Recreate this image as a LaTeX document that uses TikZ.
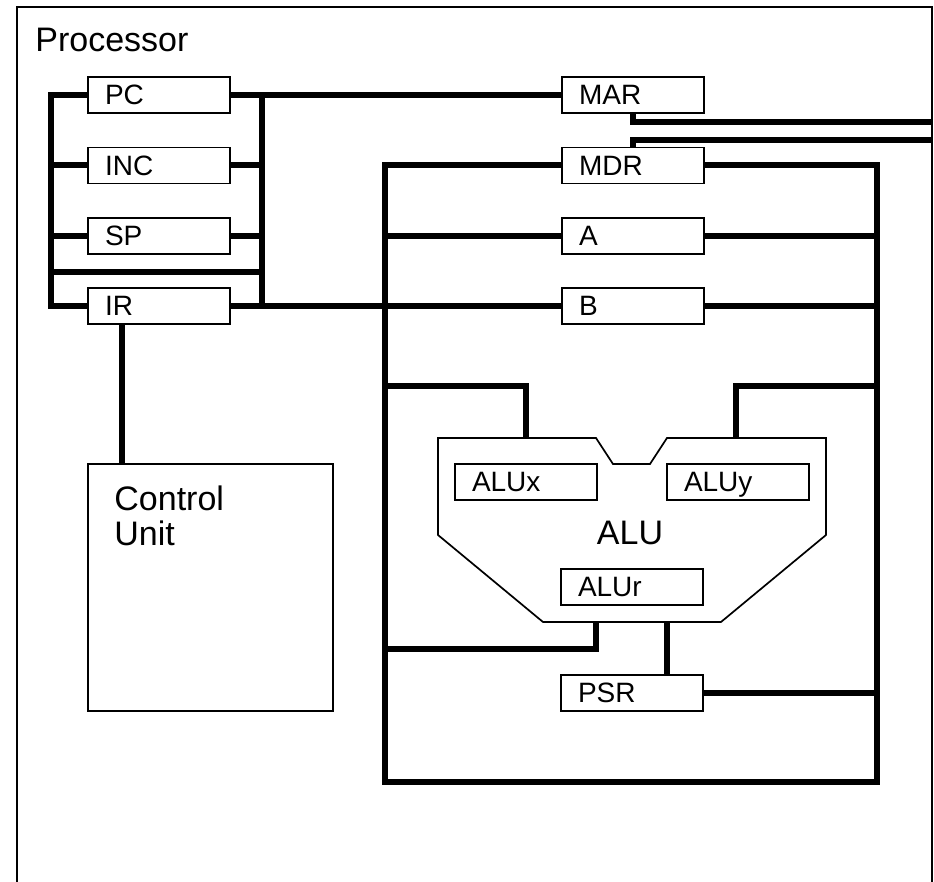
\documentclass[tikz,border=0pt]{standalone}
\usepackage{fontspec}
\setmainfont{Liberation Sans}

\begin{document}
\begin{tikzpicture}[x=0.5pt,y=-0.5pt,
  reg/.style={draw,line width=0.85pt,minimum width=71pt,minimum height=18pt,
    text width=54pt,inner xsep=8.5pt,align=left,text height=10pt,text depth=0pt,
    font=\fontsize{14}{16}\selectfont},
  bus/.style={line width=3pt},
  big/.style={font=\fontsize{17}{17.5}\selectfont}]
\useasboundingbox (0,0) rectangle (934,882);
% frame
\draw[line width=0.75pt] (17,900) -- (17,7) -- (932,7) -- (932,900);
\node[big,anchor=base west,inner sep=0pt] (title) at (35,52) {Processor};

% registers
\node[reg] (pc) at (159,95) {PC};
\node[reg] (inc) at (159,165.5) {INC};
\node[reg] (sp) at (159,236) {SP};
\node[reg] (ir) at (159,306) {IR};
\node[reg] (mar) at (633,95) {MAR};
\node[reg] (mdr) at (633,165.5) {MDR};
\node[reg] (a) at (633,236) {A};
\node[reg] (b) at (633,306) {B};

% control unit
\node[draw,line width=0.85pt,minimum width=122.5pt,minimum height=123.5pt] (cu) at (210.5,587.5) {};
\node[big,anchor=north west,inner sep=0pt,align=left] (cutext) at (114,485) {Control\\Unit};

% ALU
\draw[line width=0.85pt] (438,438) -- (596,438) -- (613,464) -- (650,464) -- (667,438)
  -- (826,438) -- (826,535) -- (721,622) -- (543,622) -- (438,535) -- cycle;
\node[big,anchor=base,inner sep=0pt] (alulabel) at (630,545) {ALU};
\node[reg] (alux) at (526,482) {ALUx};
\node[reg] (aluy) at (738,482) {ALUy};
\node[reg] (alur) at (632,587) {ALUr};
\node[reg] (psr) at (632,693) {PSR};

\coordinate (lbus) at (51,0);
\coordinate (rbus) at (262,0);
\coordinate (cross) at (51,272);
\coordinate (irtap) at (122,0);
\coordinate (addr) at (932,122);
\coordinate (data) at (932,140);
\coordinate (dl) at (385,782);
\coordinate (dr) at (877,782);
\coordinate (taprow) at (0,386);
\coordinate (xin) at (526,438);
\coordinate (yin) at (736,438);
\coordinate (rout) at (596,622);
\coordinate (fout) at (667,622);
\coordinate (backrow) at (0,649);

% left bus
\draw[bus] (pc.west) -| (lbus |- ir.west) -- (ir.west);
\draw[bus] (inc.west) -- (inc.west -| lbus);
\draw[bus] (sp.west) -- (sp.west -| lbus);
\draw[bus] (cross) -- (cross -| rbus);
\draw[bus] (rbus |- pc.east) -- (rbus |- ir.east);
\draw[bus] (inc.east) -- (inc.east -| rbus);
\draw[bus] (sp.east) -- (sp.east -| rbus);
\draw[bus] (pc.east) -- (mar.west);
\draw[bus] (ir.east) -- (b.west);
\draw[bus] (irtap |- ir.south) -- (irtap |- cu.north);

% memory ports
\draw[bus] (mar.south) |- (addr);
\draw[bus] (mdr.north) |- (data);

% data path
\draw[bus] (mdr.west) -| (dl) -- (dr) |- (mdr.east);
\draw[bus] (a.west) -- (a.west -| dl);
\draw[bus] (a.east) -- (a.east -| dr);
\draw[bus] (b.east) -- (b.east -| dr);
\draw[bus] (dl |- taprow) -| (xin);
\draw[bus] (dr |- taprow) -| (yin);
\draw[bus] (rout) |- (dl |- backrow);
\draw[bus] (fout) -- (fout |- psr.north);
\draw[bus] (psr.east) -- (psr.east -| dr);
\end{tikzpicture}
\end{document}
